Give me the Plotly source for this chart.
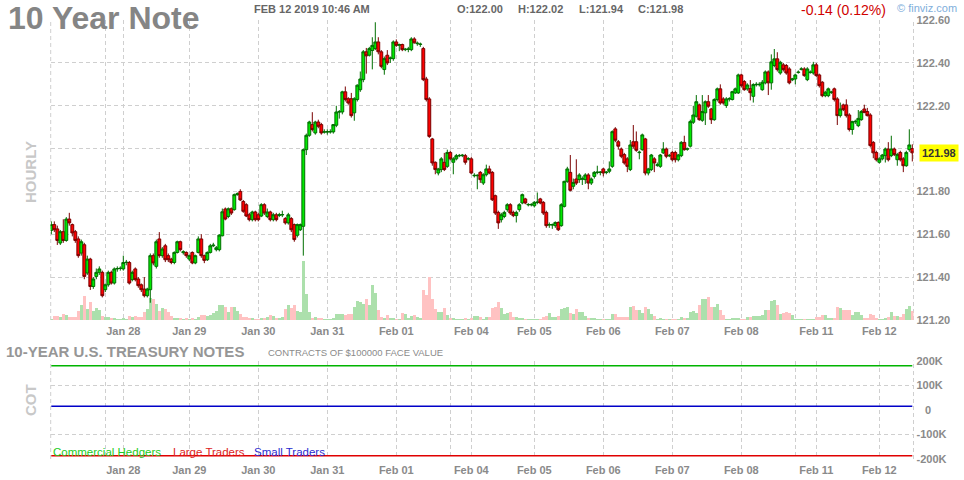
import plotly.graph_objects as go

W, H = 964, 480


def px(x):
    return x / W


def py(y):
    return 1 - y / H


# ---------------- data (hourly bars, 10 Year Note futures) ----------------
opens = [
    121.618, 121.645, 121.625, 121.559, 121.612, 121.571, 121.671, 121.645, 121.612, 121.578,
    121.512, 121.551, 121.419, 121.484, 121.356, 121.403, 121.422, 121.422, 121.341, 121.364,
    121.422, 121.372, 121.438, 121.440, 121.438, 121.468, 121.468, 121.388, 121.438, 121.391,
    121.364, 121.344, 121.313, 121.341, 121.500, 121.450, 121.578, 121.500, 121.546, 121.500,
    121.484, 121.468, 121.515, 121.565, 121.514, 121.515, 121.484, 121.515, 121.466, 121.515,
    121.578, 121.500, 121.481, 121.515, 121.546, 121.528, 121.528, 121.593, 121.718, 121.683,
    121.719, 121.715, 121.785, 121.800, 121.753, 121.738, 121.691, 121.668, 121.704, 121.691,
    121.685, 121.738, 121.683, 121.704, 121.668, 121.691, 121.688, 121.690, 121.673, 121.653,
    121.673, 121.645, 121.595, 121.621, 121.637, 121.995, 122.062, 122.112, 122.073, 122.124,
    122.112, 122.077, 122.077, 122.078, 122.078, 122.109, 122.171, 122.171, 122.265, 122.233,
    122.233, 122.167, 122.229, 122.275, 122.322, 122.452, 122.436, 122.458, 122.467, 122.498,
    122.452, 122.369, 122.436, 122.420, 122.420, 122.498, 122.482, 122.486, 122.462, 122.463,
    122.462, 122.512, 122.490, 122.486, 122.467, 122.325, 122.232, 122.045, 121.936, 121.886,
    121.902, 121.936, 121.917, 121.982, 121.936, 121.952, 121.966, 121.967, 121.967, 121.951,
    121.952, 121.873, 121.873, 121.889, 121.839, 121.878, 121.905, 121.889, 121.780, 121.702,
    121.668, 121.683, 121.715, 121.738, 121.702, 121.687, 121.715, 121.746, 121.765, 121.737,
    121.737, 121.733, 121.748, 121.765, 121.749, 121.702, 121.643, 121.643, 121.640, 121.655,
    121.640, 121.730, 121.847, 121.889, 121.824, 121.858, 121.855, 121.857, 121.855, 121.877,
    121.839, 121.870, 121.888, 121.888, 121.905, 121.888, 121.894, 121.917, 122.092, 122.032,
    121.998, 121.972, 121.952, 121.902, 122.032, 122.032, 121.981, 121.995, 122.045, 121.886,
    121.902, 121.952, 121.922, 121.917, 121.980, 121.998, 121.966, 121.982, 121.982, 121.948,
    121.967, 122.029, 121.997, 122.011, 122.123, 122.151, 122.204, 122.132, 122.167, 122.219,
    122.185, 122.135, 122.229, 122.279, 122.232, 122.201, 122.231, 122.229, 122.260, 122.260,
    122.344, 122.313, 122.279, 122.280, 122.244, 122.298, 122.298, 122.275, 122.307, 122.358,
    122.307, 122.388, 122.419, 122.353, 122.391, 122.388, 122.372, 122.321, 122.325, 122.355,
    122.370, 122.372, 122.322, 122.355, 122.353, 122.391, 122.344, 122.310, 122.247, 122.247,
    122.262, 122.279, 122.232, 122.154, 122.204, 122.204, 122.157, 122.089, 122.125, 122.107,
    122.135, 122.185, 122.173, 122.157, 122.029, 121.982, 121.936, 121.952, 121.967, 121.998,
    121.967, 121.998, 121.948, 121.982, 121.952, 121.920, 121.995, 122.000,
]

highs = [
    121.66, 121.66, 121.64, 121.62, 121.67, 121.68, 121.70, 121.65, 121.62, 121.59,
    121.575, 121.56, 121.50, 121.49, 121.40, 121.44, 121.45, 121.43, 121.37, 121.43,
    121.43, 121.445, 121.45, 121.45, 121.50, 121.48, 121.475, 121.43, 121.445, 121.40,
    121.37, 121.40, 121.35, 121.51, 121.51, 121.575, 121.61, 121.54, 121.555, 121.51,
    121.49, 121.52, 121.57, 121.57, 121.525, 121.52, 121.505, 121.52, 121.505, 121.59,
    121.60, 121.505, 121.52, 121.555, 121.56, 121.545, 121.60, 121.72, 121.725, 121.725,
    121.725, 121.79, 121.795, 121.81, 121.76, 121.745, 121.70, 121.71, 121.71, 121.70,
    121.745, 121.745, 121.72, 121.71, 121.70, 121.70, 121.70, 121.71, 121.68, 121.70,
    121.68, 121.65, 121.65, 121.65, 122.00, 122.07, 122.13, 122.17, 122.13, 122.135,
    122.12, 122.09, 122.09, 122.09, 122.115, 122.20, 122.18, 122.27, 122.29, 122.24,
    122.26, 122.24, 122.30, 122.36, 122.46, 122.47, 122.475, 122.52, 122.59, 122.52,
    122.46, 122.43, 122.46, 122.43, 122.505, 122.51, 122.49, 122.49, 122.47, 122.475,
    122.52, 122.52, 122.50, 122.495, 122.475, 122.335, 122.24, 122.05, 121.94, 121.91,
    121.96, 121.98, 121.995, 121.99, 121.96, 121.975, 121.975, 121.975, 121.975, 121.96,
    121.96, 121.885, 121.88, 121.895, 121.885, 121.925, 121.92, 121.895, 121.785, 121.71,
    121.70, 121.71, 121.745, 121.745, 121.71, 121.71, 121.745, 121.79, 121.77, 121.745,
    121.745, 121.755, 121.795, 121.77, 121.755, 121.71, 121.655, 121.65, 121.66, 121.66,
    121.745, 121.85, 121.915, 121.97, 121.86, 121.95, 121.885, 121.87, 121.885, 121.885,
    121.865, 121.895, 121.92, 121.895, 121.91, 121.895, 121.94, 122.085, 122.10, 122.04,
    122.005, 121.98, 121.96, 122.04, 122.11, 122.08, 121.99, 122.07, 122.05, 121.91,
    121.975, 121.96, 121.935, 121.975, 122.03, 122.005, 121.975, 121.99, 121.99, 121.975,
    122.035, 122.06, 122.005, 122.135, 122.20, 122.25, 122.21, 122.25, 122.225, 122.25,
    122.19, 122.235, 122.285, 122.30, 122.24, 122.24, 122.24, 122.27, 122.285, 122.35,
    122.35, 122.32, 122.305, 122.32, 122.305, 122.31, 122.31, 122.32, 122.365, 122.365,
    122.44, 122.465, 122.45, 122.41, 122.40, 122.395, 122.38, 122.33, 122.35, 122.365,
    122.38, 122.38, 122.38, 122.365, 122.405, 122.40, 122.35, 122.315, 122.27, 122.285,
    122.27, 122.285, 122.24, 122.215, 122.21, 122.23, 122.165, 122.13, 122.135, 122.18,
    122.18, 122.205, 122.19, 122.165, 122.035, 121.99, 121.96, 121.975, 122.005, 122.03,
    122.06, 122.005, 121.98, 121.99, 121.96, 121.99, 122.09, 122.02,
]

lows = [
    121.60, 121.61, 121.55, 121.55, 121.56, 121.565, 121.64, 121.59, 121.56, 121.49,
    121.50, 121.39, 121.41, 121.34, 121.345, 121.39, 121.41, 121.305, 121.33, 121.355,
    121.365, 121.365, 121.425, 121.43, 121.43, 121.455, 121.365, 121.38, 121.38, 121.35,
    121.33, 121.305, 121.305, 121.28, 121.455, 121.44, 121.49, 121.49, 121.47, 121.47,
    121.46, 121.46, 121.51, 121.52, 121.505, 121.49, 121.475, 121.46, 121.46, 121.51,
    121.49, 121.465, 121.475, 121.51, 121.54, 121.52, 121.52, 121.59, 121.665, 121.675,
    121.69, 121.71, 121.78, 121.755, 121.70, 121.68, 121.66, 121.66, 121.66, 121.66,
    121.68, 121.69, 121.675, 121.66, 121.66, 121.66, 121.68, 121.68, 121.645, 121.645,
    121.61, 121.565, 121.585, 121.615, 121.50, 121.97, 122.055, 122.08, 122.065, 122.095,
    122.065, 122.07, 122.065, 122.07, 122.07, 122.10, 122.14, 122.16, 122.22, 122.205,
    122.145, 122.13, 122.22, 122.265, 122.31, 122.35, 122.43, 122.37, 122.46, 122.44,
    122.375, 122.345, 122.39, 122.40, 122.41, 122.475, 122.455, 122.455, 122.455, 122.45,
    122.455, 122.49, 122.48, 122.475, 122.315, 122.22, 122.05, 121.92, 121.88, 121.875,
    121.89, 121.895, 121.91, 121.945, 121.88, 121.945, 121.96, 121.96, 121.925, 121.945,
    121.88, 121.865, 121.81, 121.84, 121.83, 121.87, 121.88, 121.755, 121.69, 121.625,
    121.655, 121.675, 121.705, 121.69, 121.68, 121.655, 121.705, 121.74, 121.74, 121.73,
    121.73, 121.725, 121.74, 121.74, 121.69, 121.63, 121.63, 121.625, 121.63, 121.615,
    121.635, 121.725, 121.84, 121.80, 121.81, 121.83, 121.84, 121.83, 121.835, 121.81,
    121.83, 121.86, 121.88, 121.875, 121.87, 121.88, 121.885, 121.91, 122.03, 121.995,
    121.955, 121.925, 121.89, 121.895, 122.00, 121.985, 121.95, 121.99, 121.875, 121.875,
    121.895, 121.89, 121.915, 121.91, 121.975, 121.955, 121.96, 121.94, 121.935, 121.94,
    121.96, 121.99, 121.99, 122.005, 122.115, 122.145, 122.13, 122.125, 122.11, 122.19,
    122.115, 122.13, 122.22, 122.205, 122.205, 122.19, 122.22, 122.225, 122.255, 122.255,
    122.285, 122.27, 122.27, 122.225, 122.215, 122.29, 122.29, 122.27, 122.30, 122.25,
    122.275, 122.38, 122.36, 122.345, 122.36, 122.345, 122.30, 122.315, 122.30, 122.35,
    122.365, 122.335, 122.315, 122.35, 122.345, 122.335, 122.285, 122.24, 122.24, 122.24,
    122.255, 122.22, 122.11, 122.145, 122.175, 122.145, 122.08, 122.065, 122.115, 122.10,
    122.13, 122.165, 122.15, 122.005, 121.955, 121.94, 121.93, 121.945, 121.935, 121.94,
    121.96, 121.965, 121.92, 121.94, 121.89, 121.915, 121.985, 121.94,
]

closes = [
    121.645, 121.621, 121.571, 121.612, 121.571, 121.671, 121.653, 121.606, 121.571, 121.500,
    121.565, 121.403, 121.484, 121.356, 121.391, 121.422, 121.438, 121.313, 121.364, 121.422,
    121.372, 121.438, 121.440, 121.441, 121.468, 121.469, 121.372, 121.422, 121.388, 121.360,
    121.341, 121.313, 121.344, 121.500, 121.466, 121.565, 121.500, 121.531, 121.481, 121.481,
    121.468, 121.515, 121.565, 121.528, 121.518, 121.500, 121.500, 121.466, 121.500, 121.578,
    121.500, 121.478, 121.515, 121.546, 121.549, 121.537, 121.596, 121.705, 121.671, 121.719,
    121.699, 121.785, 121.789, 121.760, 121.707, 121.685, 121.668, 121.704, 121.668, 121.668,
    121.738, 121.699, 121.704, 121.668, 121.691, 121.668, 121.691, 121.692, 121.653, 121.691,
    121.621, 121.575, 121.645, 121.645, 121.995, 122.062, 122.124, 122.089, 122.124, 122.104,
    122.073, 122.078, 122.079, 122.079, 122.112, 122.171, 122.172, 122.265, 122.229, 122.213,
    122.154, 122.233, 122.296, 122.325, 122.452, 122.433, 122.467, 122.482, 122.498, 122.452,
    122.384, 122.420, 122.400, 122.423, 122.498, 122.482, 122.486, 122.462, 122.464, 122.465,
    122.512, 122.494, 122.492, 122.488, 122.322, 122.229, 122.057, 121.933, 121.902, 121.905,
    121.952, 121.902, 121.982, 121.952, 121.952, 121.967, 121.968, 121.969, 121.936, 121.953,
    121.886, 121.875, 121.875, 121.855, 121.878, 121.905, 121.886, 121.761, 121.699, 121.653,
    121.691, 121.702, 121.738, 121.699, 121.687, 121.702, 121.738, 121.785, 121.746, 121.739,
    121.739, 121.749, 121.750, 121.746, 121.699, 121.640, 121.645, 121.645, 121.655, 121.621,
    121.738, 121.847, 121.905, 121.805, 121.842, 121.839, 121.877, 121.859, 121.877, 121.839,
    121.858, 121.889, 121.890, 121.890, 121.886, 121.890, 121.905, 122.079, 122.039, 122.011,
    121.964, 121.933, 121.917, 122.017, 122.011, 121.992, 121.983, 122.064, 121.886, 121.905,
    121.970, 121.933, 121.924, 121.970, 121.998, 121.964, 121.968, 121.948, 121.948, 121.970,
    122.029, 121.995, 121.999, 122.126, 122.157, 122.219, 122.135, 122.173, 122.219, 122.198,
    122.135, 122.229, 122.279, 122.213, 122.213, 122.232, 122.233, 122.266, 122.279, 122.344,
    122.294, 122.275, 122.297, 122.261, 122.299, 122.300, 122.300, 122.310, 122.358, 122.307,
    122.405, 122.419, 122.369, 122.403, 122.369, 122.353, 122.307, 122.325, 122.344, 122.357,
    122.372, 122.341, 122.372, 122.357, 122.391, 122.341, 122.294, 122.247, 122.263, 122.279,
    122.264, 122.229, 122.154, 122.185, 122.182, 122.154, 122.089, 122.126, 122.127, 122.141,
    122.173, 122.169, 122.154, 122.014, 121.980, 121.948, 121.952, 121.970, 121.998, 121.948,
    121.998, 121.972, 121.972, 121.948, 121.920, 121.982, 122.017, 121.980,
]

volume = [
    1, 4, 4, 3, 6, 5, 3, 3, 3, 9,
    15, 24, 11, 18, 9, 12, 10, 4, 3, 3,
    2, 2, 1, 1, 2, 1, 4, 3, 4, 3,
    3, 8, 11, 22, 21, 16, 9, 12, 11, 8,
    4, 2, 2, 2, 1, 2, 1, 2, 1, 3,
    5, 5, 4, 5, 7, 9, 15, 15, 13, 8,
    13, 13, 9, 6, 3, 3, 2, 2, 1, 1,
    2, 2, 3, 5, 4, 2, 2, 3, 11, 15,
    12, 15, 9, 8, 59, 26, 8, 2, 3, 2,
    2, 1, 1, 1, 2, 6, 6, 6, 5, 6,
    6, 13, 19, 18, 16, 21, 15, 35, 27, 10,
    3, 2, 5, 2, 2, 1, 1, 7, 6, 2,
    4, 5, 3, 2, 30, 25, 43, 21, 11, 8,
    8, 12, 5, 2, 2, 1, 1, 1, 2, 1,
    2, 4, 4, 3, 1, 3, 3, 12, 13, 18,
    12, 6, 7, 8, 3, 3, 2, 2, 1, 1,
    1, 1, 1, 1, 3, 4, 7, 3, 3, 4,
    11, 12, 13, 7, 6, 11, 8, 8, 4, 2,
    2, 2, 1, 1, 1, 1, 1, 6, 6, 3,
    3, 3, 3, 13, 14, 10, 10, 7, 13, 11,
    6, 4, 1, 2, 1, 1, 1, 1, 1, 1,
    3, 2, 2, 8, 9, 7, 15, 21, 21, 23,
    13, 13, 16, 10, 5, 1, 1, 2, 2, 2,
    1, 1, 3, 3, 4, 4, 4, 5, 10, 10,
    19, 20, 15, 6, 7, 8, 7, 5, 1, 1,
    1, 1, 1, 1, 1, 3, 3, 5, 5, 2,
    2, 2, 13, 12, 10, 10, 10, 5, 8, 8,
    5, 2, 2, 6, 5, 2, 1, 1, 2, 3,
    8, 4, 4, 3, 6, 11, 14, 9,
]

# day labels (bar index where each session starts) and extra session breaks
day_ticks = [24, 46, 69, 92, 115, 140, 161, 184, 207, 230, 255, 276]
day_labels = ["Jan 28", "Jan 29", "Jan 30", "Jan 31", "Feb 01", "Feb 04",
              "Feb 05", "Feb 06", "Feb 07", "Feb 08", "Feb 11", "Feb 12"]
session_breaks = [18, 133, 248]

price_ticks = [121.2, 121.4, 121.6, 121.8, 122.0, 122.2, 122.4, 122.6]
price_labels = ["121.20", "121.40", "121.60", "121.80", "", "122.20", "122.40", "122.60"]
last_price = 121.98

# COT positions (contracts)
cot_commercial = 180000
cot_large = -188000
cot_small = 15000
cot_ticks = [-200000, -100000, 100000, 200000]
cot_labels = ["-200K", "-100K", "100K", "200K"]

# ---------------- figure ----------------
GRID = "#cfcfcf"
DASH = "4px,3px"
TXT = "#8a8a8a"
FONT = "Liberation Sans, Arial, sans-serif"

n = len(closes)
bars = list(range(n))
vol_colors = ["#ace0ac" if c >= o else "#ffc2c2" for o, c in zip(opens, closes)]

x_tickvals = day_ticks + session_breaks
x_ticktext = day_labels + [""] * len(session_breaks)

fig = go.Figure()

fig.add_trace(go.Bar(
    x=bars, y=volume, xaxis="x", yaxis="y",
    marker=dict(color=vol_colors, line=dict(width=0)),
    hoverinfo="skip",
))

fig.add_trace(go.Candlestick(
    x=bars, open=opens, high=highs, low=lows, close=closes,
    xaxis="x", yaxis="y2",
    increasing=dict(fillcolor="#00e800", line=dict(color="#006e00", width=1)),
    decreasing=dict(fillcolor="#ff0000", line=dict(color="#7a0000", width=1)),
    whiskerwidth=0,
))

for val, col in [(cot_commercial, "#00b400"), (cot_large, "#e00000"), (cot_small, "#0000c8")]:
    fig.add_trace(go.Scatter(
        x=bars, y=[val] * n, xaxis="x2", yaxis="y3", mode="lines",
        line=dict(color=col, width=1.5), hoverinfo="skip",
    ))

xdom = [px(50.7), px(913.5)]
xrange_ = [-0.2, 287.4]

common_x = dict(
    domain=xdom, range=xrange_, tickvals=x_tickvals, ticktext=x_ticktext,
    showgrid=True, gridcolor=GRID, griddash=DASH, gridwidth=1,
    zeroline=False, showline=False, ticks="", automargin=False,
    ticklabelstandoff=3,
    tickfont=dict(family=FONT, size=11, color=TXT, weight="bold"),
    fixedrange=True,
)

fig.update_layout(
    width=W, height=H, autosize=False,
    margin=dict(l=0, r=0, t=0, b=0, pad=0, autoexpand=False),
    paper_bgcolor="white", plot_bgcolor="white",
    showlegend=False, boxgap=0.05, boxgroupgap=0, bargap=0,
    font=dict(family=FONT),
    xaxis=dict(anchor="y", rangeslider=dict(visible=False), **common_x),
    yaxis=dict(domain=[py(320), py(20)], range=[0, 300], visible=False,
               fixedrange=True, automargin=False),
    yaxis2=dict(
        overlaying="y", anchor="x", side="right", automargin=False,
        range=[121.1995, 122.6005], tickvals=price_ticks, ticktext=price_labels,
        showgrid=True, gridcolor=GRID, griddash=DASH, gridwidth=1,
        zeroline=False, showline=False, ticks="", ticklabelstandoff=2,
        tickfont=dict(family=FONT, size=11, color=TXT, weight="bold"),
        fixedrange=True,
    ),
    xaxis2=dict(anchor="y3", **common_x),
    yaxis3=dict(
        domain=[py(459), py(360.7)], anchor="x2", side="right", automargin=False,
        range=[-201000, 201000], tickvals=cot_ticks, ticktext=cot_labels,
        showgrid=True, gridcolor=GRID, griddash=DASH, gridwidth=1,
        zeroline=False, showline=False, ticks="", ticklabelstandoff=2,
        tickfont=dict(family=FONT, size=11, color=TXT, weight="bold"),
        fixedrange=True,
    ),
)

# vertical edges of both panels
for xr, yr in [("x domain", "y domain"), ("x2 domain", "y3 domain")]:
    for xv in (0, 1):
        fig.add_shape(type="line", xref=xr, yref=yr, x0=xv, x1=xv, y0=0, y1=1,
                      line=dict(color=GRID, width=1, dash=DASH), layer="below")

ann = []


def text(x, y, s, size, color, bold=False, xanchor="left", yanchor="middle", angle=0, **kw):
    ann.append(dict(
        x=px(x), y=py(y), xref="paper", yref="paper", text=s, showarrow=False,
        xanchor=xanchor, yanchor=yanchor, textangle=angle,
        font=dict(family=FONT, size=size, color=color, weight="bold" if bold else "normal"),
        **kw,
    ))


text(6, 18, "10 Year Note", 32, "#858585", bold=True)
text(252, 9.5, "FEB 12 2019 10:46 AM", 11, "#666666", bold=True)
text(455, 9.5, "O:122.00", 11, "#666666", bold=True)
text(516, 9.5, "H:122.02", 11, "#666666", bold=True)
text(577, 9.5, "L:121.94", 11, "#666666", bold=True)
text(636, 9.5, "C:121.98", 11, "#666666", bold=True)
text(799, 10, "-0.14 (0.12%)", 14, "#d00000")
text(895, 8, "© finviz.com", 11, "#7eaedb")
text(30, 172, "HOURLY", 15, "#c8c8c8", bold=True, xanchor="center", angle=-90)
text(30, 400, "COT", 15, "#c8c8c8", bold=True, xanchor="center", angle=-90)
text(4, 351, "10-YEAR U.S. TREASURY NOTES", 15, "#969696", bold=True)
text(266, 352, "CONTRACTS OF $100000 FACE VALUE", 9.5, "#8a8a8a")
text(51, 452, "Commercial Hedgers", 11.5, "#22cc22")
text(171, 452, "Large Traders", 11.5, "#dd2222")
text(252, 452, "Small Traders", 11.5, "#2a2ad0")

# "0" label of the COT axis (no grid line at zero)
ann.append(dict(x=px(923), y=0, xref="paper", yref="y3", text="0", showarrow=False,
                xanchor="left", yanchor="middle",
                font=dict(family=FONT, size=11, color=TXT, weight="bold")))

# last price tag
ann.append(dict(x=px(919), y=last_price, xref="paper", yref="y2", text=f"{last_price:.2f}",
                showarrow=False, xanchor="left", yanchor="middle", bgcolor="#ffff00",
                borderpad=2,
                font=dict(family=FONT, size=11, color="#333333", weight="bold")))

fig.update_layout(annotations=ann)

fig.write_html(
    "out.html",
    config={"displayModeBar": False},
    post_script="document.body.style.margin='0px';document.body.style.overflow='hidden';",
)
